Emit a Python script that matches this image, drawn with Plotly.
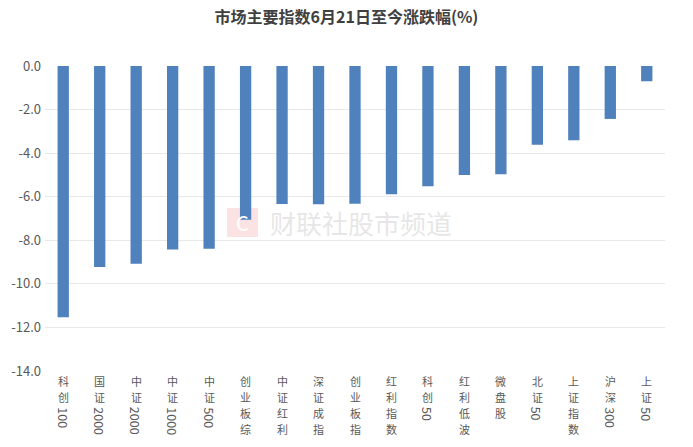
import re
import plotly.graph_objects as go

categories = ["科创100", "国证2000", "中证2000", "中证1000", "中证500", "创业板综",
              "中证红利", "深证成指", "创业板指", "红利指数", "科创50", "红利低波",
              "微盘股", "北证50", "上证指数", "沪深300", "上证50"]
values = [-11.53, -9.23, -9.08, -8.42, -8.39, -7.06,
          -6.34, -6.35, -6.32, -5.89, -5.52, -5.00,
          -4.97, -3.61, -3.41, -2.43, -0.70]
y_ticks = [0, -2, -4, -6, -8, -10, -12, -14]
title_text = "市场主要指数6月21日至今涨跌幅(%)"
watermark_text = "财联社股市频道"

FONT = "Noto Sans CJK SC, Microsoft YaHei, sans-serif"
LABEL_COLOR = "#595959"

W, H = 693, 447
PL, PR, PT, PB = 45, 665, 66, 371

fig = go.Figure()
fig.add_trace(go.Bar(
    x=categories, y=values,
    marker=dict(color="#4F81BD", line=dict(width=0)),
    width=0.31,
))

pw, ph = PR - PL, PB - PT

def px(xabs):
    return (xabs - PL) / pw

def py(yabs):
    return 1 - (yabs - PT) / ph

fig.add_shape(type="rect", xref="paper", yref="paper",
              x0=px(227), x1=px(258), y0=py(237), y1=py(208),
              fillcolor="#fbe3e4", line=dict(width=0), layer="below")

annotations = [
    dict(text="C", xref="paper", yref="paper", x=px(242.5), y=py(222.5),
         showarrow=False, font=dict(family=FONT, size=20, color="#ffffff"),
         xanchor="center", yanchor="middle"),
    dict(text=watermark_text, xref="paper", yref="paper", x=px(360.5),
         y=py(222), showarrow=False,
         font=dict(family=FONT, size=26, color="rgba(200,200,200,0.45)"),
         xanchor="center", yanchor="middle"),
]

FS = 11
FS_DIGIT = 12.5
PITCH = 16
for cat in categories:
    m = re.match(r"^(\D+)(\d*)$", cat)
    cn, digits = m.group(1), m.group(2)
    for i, ch in enumerate(cn):
        annotations.append(dict(
            text=ch, x=cat, xref="x", y=0, yref="paper",
            yanchor="top", xanchor="center", yshift=-(1 + i * PITCH),
            showarrow=False, borderpad=0,
            font=dict(family=FONT, size=FS, color=LABEL_COLOR)))
    if digits:
        annotations.append(dict(
            text=digits, x=cat, xref="x", y=0, yref="paper", textangle=90,
            yanchor="top", xanchor="center", yshift=-(3 + len(cn) * PITCH),
            showarrow=False, borderpad=0,
            font=dict(family=FONT, size=FS_DIGIT, color=LABEL_COLOR)))

fig.update_layout(
    width=W, height=H,
    margin=dict(l=PL, r=W - PR, t=PT, b=H - PB, autoexpand=False),
    paper_bgcolor="white", plot_bgcolor="white",
    showlegend=False,
    title=dict(text="<b>" + title_text + "</b>", x=346.5 / W, xanchor="center",
               y=1 - 17 / H, yanchor="middle",
               font=dict(family=FONT, size=16, color="#404040")),
    xaxis=dict(showticklabels=False, showgrid=False, zeroline=False,
               showline=False, ticks="", automargin=False),
    yaxis=dict(range=[-14, 0], tickvals=y_ticks,
               ticktext=[f"{v:.1f}" for v in y_ticks],
               showgrid=True, gridcolor="#e8e8e8", gridwidth=1,
               zeroline=False, showline=False, ticks="", automargin=False,
               ticklabelstandoff=3,
               tickfont=dict(family=FONT, size=13, color=LABEL_COLOR)),
    annotations=annotations,
    bargap=0.69,
)

fig.write_html("out.html", config={"displayModeBar": False},
               post_script="document.body.style.margin='0px';")
